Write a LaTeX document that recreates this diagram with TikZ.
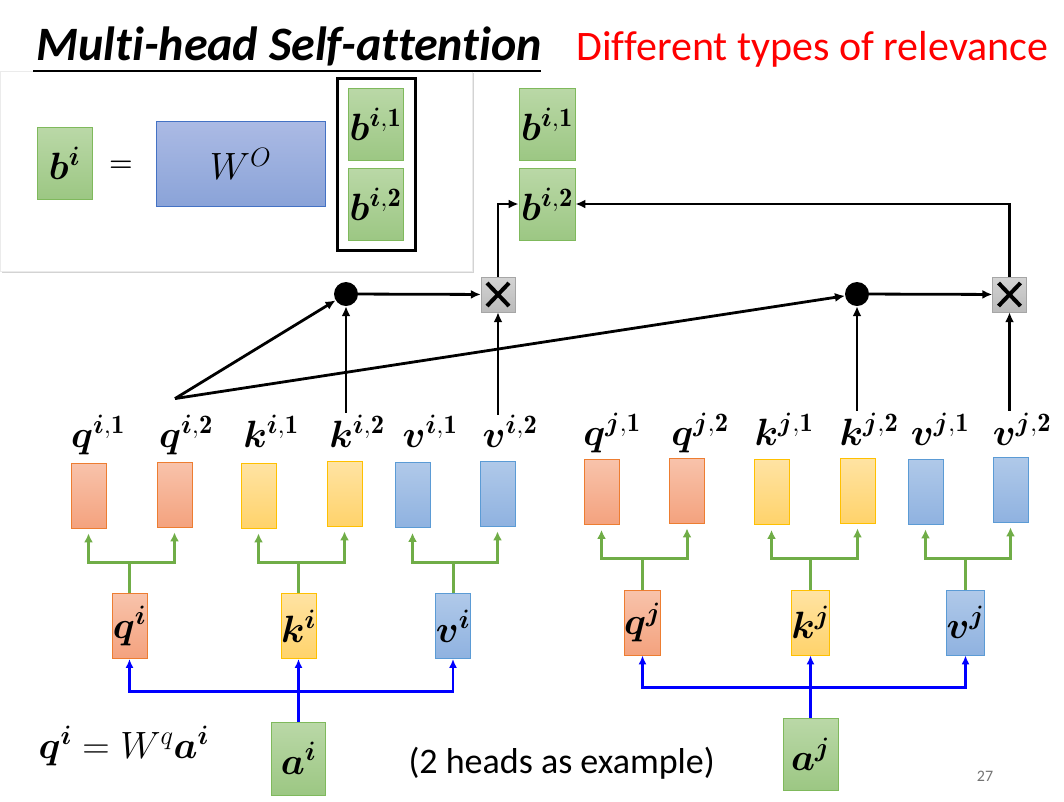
\RequirePackage{fix-cm}
\documentclass[tikz,border=0pt]{standalone}
\usepackage{amsmath}
\usepackage{bm}
\usepackage{fontspec}
\newfontfamily\calibri[Ligatures=NoCommon]{Carlito}
\usetikzlibrary{positioning,shadows,arrows.meta}

\definecolor{qtop}{HTML}{F8C3AB}
\definecolor{qbot}{HTML}{F4A27E}
\definecolor{qdraw}{HTML}{ED7D31}
\definecolor{ktop}{HTML}{FFE3A3}
\definecolor{kbot}{HTML}{FFD36B}
\definecolor{kdraw}{HTML}{FFC000}
\definecolor{vtop}{HTML}{B0C9E9}
\definecolor{vbot}{HTML}{8FB2E0}
\definecolor{vdraw}{HTML}{5B9BD5}
\definecolor{gtop}{HTML}{BAD8A7}
\definecolor{gbot}{HTML}{9CC783}
\definecolor{gdraw}{HTML}{7FB95C}
\definecolor{wtop}{HTML}{ABBAE4}
\definecolor{wbot}{HTML}{8AA3D8}
\definecolor{wdraw}{HTML}{4472C4}
\definecolor{branch}{HTML}{70AD47}

\newcommand{\headvec}[3]{$\bm{#1}^{\bm{#2},\mathbf{#3}}$}

\begin{document}
\begin{tikzpicture}[x=1pt, y=-1pt]
\tikzstyle{vec} = [draw, line width=0.8pt, minimum width=35pt, minimum height=65pt, inner sep=0pt, font=\fontsize{38}{38}\selectfont]
\tikzstyle{qvec} = [vec, draw=qdraw, top color=qtop, bottom color=qbot]
\tikzstyle{kvec} = [vec, draw=kdraw, top color=ktop, bottom color=kbot]
\tikzstyle{vvec} = [vec, draw=vdraw, top color=vtop, bottom color=vbot]
\tikzstyle{gvec} = [vec, draw=gdraw, top color=gtop, bottom color=gbot, minimum width=55pt, minimum height=72pt]
\tikzstyle{lbl} = [inner sep=0pt, anchor=base, font=\fontsize{38}{38}\selectfont]
\tikzstyle{dot} = [circle, fill=black, minimum size=24pt, inner sep=0pt]
\tikzstyle{mult} = [draw=black!35, top color=black!17, bottom color=black!27, minimum width=34pt, minimum height=35pt, inner sep=0pt,
  path picture={\draw[black, line width=4pt] ([shift={(6pt,-6pt)}]path picture bounding box.north west) -- ([shift={(-6pt,6pt)}]path picture bounding box.south east);
                \draw[black, line width=4pt] ([shift={(-6pt,-6pt)}]path picture bounding box.north east) -- ([shift={(6pt,6pt)}]path picture bounding box.south west);}]
\tikzstyle{line} = [draw, line width=2.8pt, -{Latex[length=10pt,width=9pt]}]
\tikzstyle{gline} = [draw=branch, line width=3pt, -{Latex[length=9pt,width=9pt]}]
\tikzstyle{bline} = [draw=blue, line width=2.6pt, -{Latex[length=9pt,width=8pt]}]

\useasboundingbox (0,0) rectangle (1064,801);

% inset with the output projection
\node [fill=white, draw=black!8, minimum width=472pt, minimum height=200pt, drop shadow={shadow xshift=2pt, shadow yshift=-2pt, opacity=0.35}] (panel) at (236,171) {};
\node [anchor=base west, font=\calibri\bfseries\itshape\fontsize{48}{48}\selectfont] (title) at (33,60) {Multi-head Self-attention};
\draw [line width=1.3pt] (33,71) -- (541,71);
\node [anchor=base west, text=red, font=\calibri\fontsize{42}{42}\selectfont] (types) at (573,60) {Different types of relevance};

\node [gvec] (pbi) at (64.5,163.5) {$\bm{b}^{\bm{i}}$};
\node [font=\fontsize{27}{27}\selectfont] (equals) at (121,166) {$\bm{=}$};
\node [vec, draw=wdraw, top color=wtop, bottom color=wbot, minimum width=169pt, minimum height=85pt] (wo) at (240.5,164) {$W^{O}$};
\node [gvec] (pbi1) at (375.5,124.5) {\headvec{b}{i}{1}};
\node [gvec] (pbi2) at (375.5,204) {\headvec{b}{i}{2}};
\node [draw, line width=3pt, minimum width=78pt, minimum height=172pt] (stack) at (376.5,164.5) {};

% outputs
\node [gvec, minimum width=56pt] (bi1) at (547,124) {\headvec{b}{i}{1}};
\node [gvec, minimum width=56pt] (bi2) at (547,204) {\headvec{b}{i}{2}};

\node [dot] (dot1) at (346,294) {};
\node [dot] (dot2) at (857,294) {};
\node [mult] (mul1) at (498,294.5) {};
\node [mult] (mul2) at (1009.5,294.5) {};

% heads of token i
\node [qvec] (qi1) at (88.5,495.5) {};
\node [qvec] (qi2) at (174.5,494.5) {};
\node [kvec] (ki1) at (258.5,495.5) {};
\node [kvec] (ki2) at (344.5,493.5) {};
\node [vvec] (vi1) at (412.5,495) {};
\node [vvec] (vi2) at (497.5,493.5) {};

\node [lbl] (lqi1) at (98,447) {\headvec{q}{i}{1}};
\node [lbl] (lqi2) at (186,447) {\headvec{q}{i}{2}};
\node [lbl] (lki1) at (271,447) {\headvec{k}{i}{1}};
\node [lbl] (lki2) at (357,447) {\headvec{k}{i}{2}};
\node [lbl] (lvi1) at (430,447) {\headvec{v}{i}{1}};
\node [lbl] (lvi2) at (510,447) {\headvec{v}{i}{2}};

\node [qvec] (qi) at (129.5,626) {$\bm{q}^{\bm{i}}$};
\node [kvec] (ki) at (298.5,626) {$\bm{k}^{\bm{i}}$};
\node [vvec] (vi) at (453,626) {$\bm{v}^{\bm{i}}$};
\node [gvec, minimum width=54pt, minimum height=73pt] (ai) at (298.5,758.5) {$\bm{a}^{\bm{i}}$};

% heads of token j
\node [qvec] (qj1) at (601.5,492) {};
\node [qvec] (qj2) at (687,490.5) {};
\node [kvec] (kj1) at (771.5,492) {};
\node [kvec] (kj2) at (857.5,490.5) {};
\node [vvec] (vj1) at (925.5,491.5) {};
\node [vvec] (vj2) at (1010.5,489.5) {};

\node [lbl] (lqj1) at (612,445) {\headvec{q}{j}{1}};
\node [lbl] (lqj2) at (700,445) {\headvec{q}{j}{2}};
\node [lbl] (lkj1) at (784,445) {\headvec{k}{j}{1}};
\node [lbl] (lkj2) at (869,445) {\headvec{k}{j}{2}};
\node [lbl] (lvj1) at (940,445) {\headvec{v}{j}{1}};
\node [lbl] (lvj2) at (1022,445) {\headvec{v}{j}{2}};

\node [qvec] (qj) at (642.5,622.5) {$\bm{q}^{\bm{j}}$};
\node [kvec] (kj) at (810.5,622.5) {$\bm{k}^{\bm{j}}$};
\node [vvec] (vj) at (965.5,622.5) {$\bm{v}^{\bm{j}}$};
\node [gvec] (aj) at (810.5,754) {$\bm{a}^{\bm{j}}$};

\node [anchor=base west, font=\fontsize{38}{38}\selectfont] (formula) at (35,758) {$\bm{q}^{\bm{i}} = W^{q}\bm{a}^{\bm{i}}$};
\node [anchor=base west, font=\calibri\fontsize{36}{36}\selectfont] (note) at (405,773) {(2 heads as example)};
\node [text=black!55, font=\calibri\fontsize{16}{16}\selectfont] (page) at (985,776) {27};

% attention of head 2
\coordinate (src) at ([shift={(-11,-16)}]lqi2.north);
\path [line] (src) -- (dot1);
\path [line] (src) -- (dot2);
\path [line] ([yshift=2pt]lki2.north -| dot1) -- (dot1);
\path [line] ([yshift=0pt]lvi2.north -| mul1) -- (mul1);
\path [line] ([yshift=2pt]lkj2.north -| dot2) -- (dot2);
\path [line] ([yshift=2pt]lvj2.north -| mul2) -- (mul2);
\path [line] (dot1) -- (mul1);
\path [line] (dot2) -- (mul2);
\path [line] (mul1) |- (bi2);
\path [line] (mul2) |- (bi2);

% split into heads
\path [gline] (qi.north) -- ++(0,-31) -| ([yshift=-5pt]qi1.south);
\path [gline] (qi.north) ++(0,-31) -| ([yshift=-5pt]qi2.south);
\path [gline] (ki.north) -- ++(0,-31) -| ([yshift=-5pt]ki1.south);
\path [gline] (ki.north) ++(0,-31) -| ([yshift=-5pt]ki2.south);
\path [gline] (vi.north) -- ++(0,-31) -| ([yshift=-5pt]vi1.south);
\path [gline] (vi.north) ++(0,-31) -| ([yshift=-5pt]vi2.south);
\path [gline] (qj.north) -- ++(0,-31) -| ([yshift=-5pt]qj1.south);
\path [gline] (qj.north) ++(0,-31) -| ([yshift=-5pt]qj2.south);
\path [gline] (kj.north) -- ++(0,-31) -| ([yshift=-5pt]kj1.south);
\path [gline] (kj.north) ++(0,-31) -| ([yshift=-5pt]kj2.south);
\path [gline] (vj.north) -- ++(0,-31) -| ([yshift=-5pt]vj1.south);
\path [gline] (vj.north) ++(0,-31) -| ([yshift=-5pt]vj2.south);

% projections from the inputs
\path [bline] (ai.north) -- ++(0,-30) -| (qi.south);
\path [bline] (ai.north) ++(0,-30) -| (vi.south);
\path [bline] (ai) -- (ki);
\path [bline] (aj.north) -- ++(0,-30) -| (qj.south);
\path [bline] (aj.north) ++(0,-30) -| (vj.south);
\path [bline] (aj) -- (kj);

\end{tikzpicture}
\end{document}
